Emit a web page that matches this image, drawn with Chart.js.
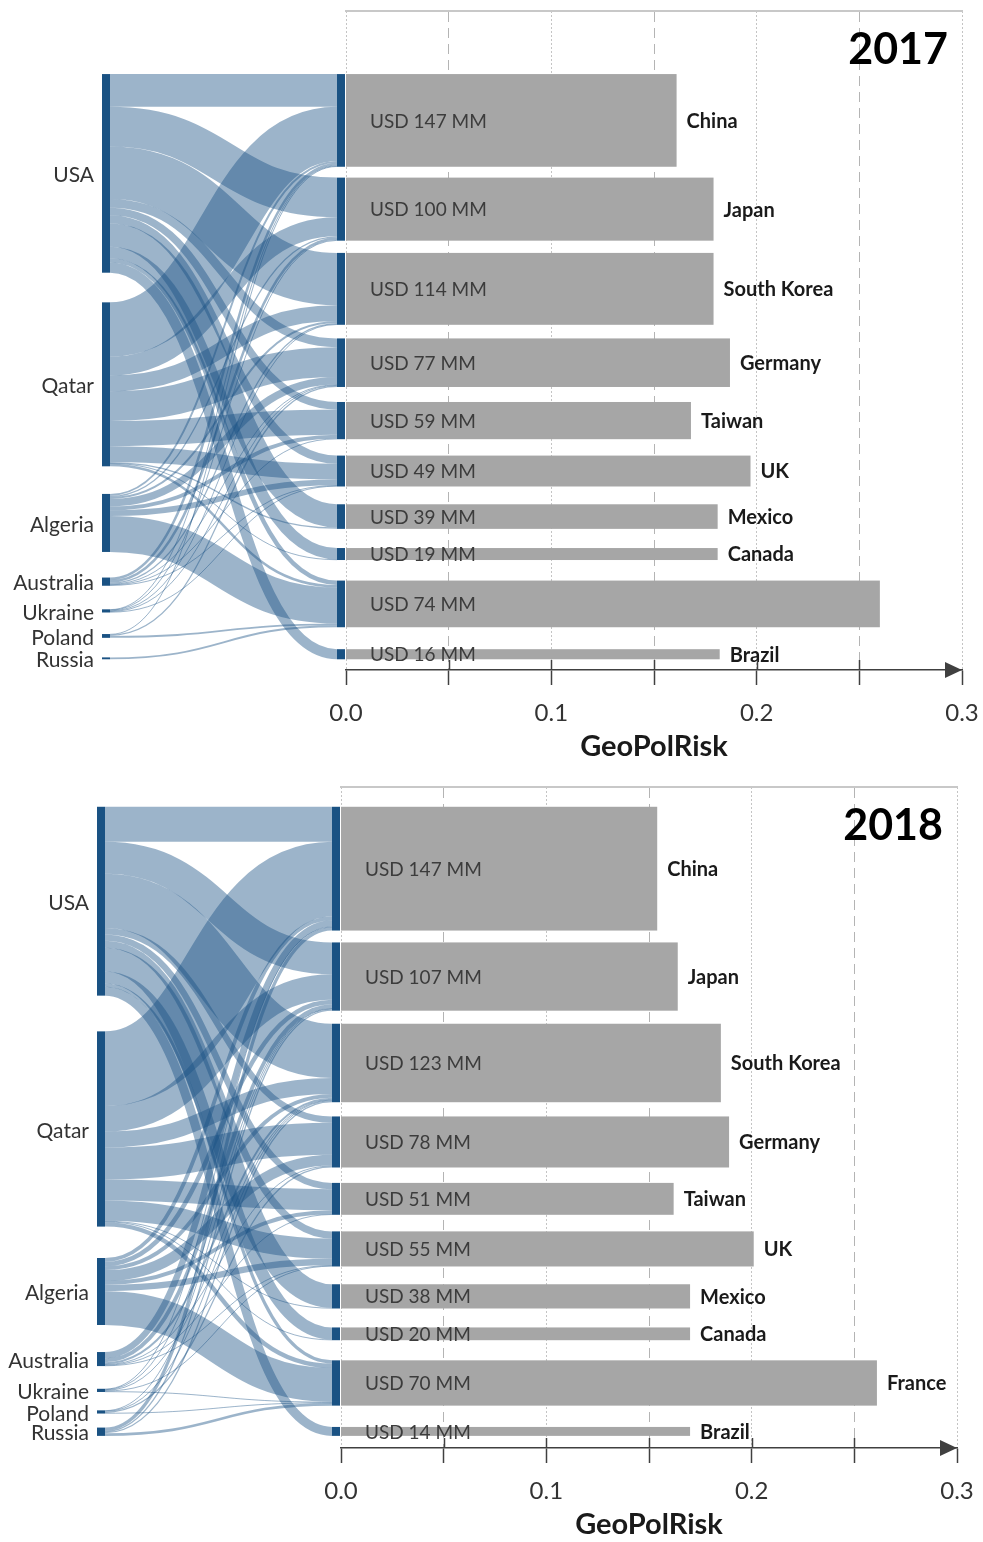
<!DOCTYPE html>
<html>
<head>
<meta charset="utf-8">
<script src="https://cdn.jsdelivr.net/npm/chart.js@4.4.1/dist/chart.umd.min.js"></script>
<style>
  body { margin: 0; background: #fff; }
  .panel { position: relative; width: 983px; height: 771px; }
  canvas { display: block; }
</style>
</head>
<body>
<div class="panel"><canvas id="c2017" width="983" height="771"></canvas></div>
<div class="panel"><canvas id="c2018" width="983" height="771"></canvas></div>
<script>
// exporters (left column) and importers (right column / bars)
const exporters = ['USA', 'Qatar', 'Algeria', 'Australia', 'Ukraine', 'Poland', 'Russia'];
const importers = ['China', 'Japan', 'South Korea', 'Germany', 'Taiwan', 'UK', 'Mexico', 'Canada', 'France', 'Brazil'];
const importerLabels2017 = ['China', 'Japan', 'South Korea', 'Germany', 'Taiwan', 'UK', 'Mexico', 'Canada', '', 'Brazil'];
const importerLabels2018 = importers;

// trade value shown on the bars (USD MM)
const usd2017 = [147, 100, 114, 77, 59, 49, 39, 19, 74, 16];
const usd2018 = [147, 107, 123, 78, 51, 55, 38, 20, 70, 14];

// GeoPolRisk per importer
const risk2017 = [0.161, 0.179, 0.179, 0.187, 0.168, 0.197, 0.181, 0.181, 0.260, 0.182];
const risk2018 = [0.154, 0.164, 0.185, 0.189, 0.162, 0.201, 0.170, 0.170, 0.261, 0.170];

// flows exporter -> importer, rows = exporters, cols = importers
const flows2017 = [
  [52, 63, 83, 14, 12, 13, 37, 18, 7, 16],  // USA
  [86, 30, 25, 47, 40, 25, 2, 1, 4, 0],     // Qatar
  [3, 2, 3, 12, 6, 9, 0, 0, 57, 0],         // Algeria
  [4, 4, 2, 1, 1, 1, 0, 0, 0, 0],           // Australia
  [1, 1, 1, 1, 0, 1, 0, 0, 0, 0],           // Ukraine
  [1, 0, 0, 2, 0, 0, 0, 0, 3, 0],           // Poland
  [0, 0, 0, 0, 0, 0, 0, 0, 3, 0]            // Russia
];
const flows2018 = [
  [55, 50, 85, 10, 10, 11, 37, 19, 5, 14],  // USA
  [117, 40, 25, 50, 33, 32, 1, 1, 7, 0],    // Qatar
  [6, 7, 6, 17, 6, 10, 0, 0, 53, 0],        // Algeria
  [10, 6, 3, 1, 1, 1, 0, 0, 0, 0],          // Australia
  [1, 1, 1, 0, 0, 1, 0, 0, 1, 0],           // Ukraine
  [0, 1, 1, 2, 0, 0, 0, 0, 1, 0],           // Poland
  [5, 2, 2, 0, 0, 0, 0, 0, 4, 0]            // Russia
];

const riskTicks = [0, 0.1, 0.2, 0.3];
const riskMinorTicks = [0.05, 0.15, 0.25];

const FONT = 'Lato, "DejaVu Sans", sans-serif';
const NODE_BLUE = '#1a5283';
const FLOW_BLUE = 'rgba(26,82,131,0.43)';
const BAR_GREY = '#a6a6a6';
const nodeGap = 26; // mean gap between importer nodes, in value units

const sum = a => a.reduce((p, c) => p + c, 0);

// gaps widen (or shrink) a little down each column, as in the original layout
function gaps(n, mean, slope) {
  const mid = (n - 2) / 2;
  return Array.from({ length: n - 1 }, (_, k) => mean + slope * (k - mid));
}

function layoutSankey(flows, slopeL, slopeR) {
  const srcTot = flows.map(r => sum(r));
  const tgtTot = importers.map((_, j) => sum(flows.map(r => r[j])));
  const total = sum(tgtTot);
  const gapTotal = nodeGap * (importers.length - 1);
  const span = total + gapTotal;
  const gL = gaps(exporters.length, gapTotal / (exporters.length - 1), slopeL);
  const gR = gaps(importers.length, nodeGap, slopeR);
  let y = 0;
  const srcPos = srcTot.map((v, i) => { const p = [y, y + v]; y += v + (gL[i] || 0); return p; });
  y = 0;
  const tgtPos = tgtTot.map((v, j) => { const p = [y, y + v]; y += v + (gR[j] || 0); return p; });
  const links = [];
  flows.forEach((row, i) => {
    let acc = srcPos[i][0];
    row.forEach((v, j) => {
      if (v > 0) { links.push({ i, j, v, s0: acc, s1: acc + v }); }
      acc += v;
    });
  });
  importers.forEach((_, j) => {
    let acc = tgtPos[j][0];
    exporters.forEach((_, i) => {
      const l = links.find(k => k.i === i && k.j === j);
      if (l) { l.t0 = acc; l.t1 = acc + l.v; acc += l.v; }
    });
  });
  return { srcPos, tgtPos, links, span };
}

const sankeyBars = {
  id: 'sankeyBars',
  afterDatasetsDraw(chart, args, opts) {
    const { ctx, chartArea } = chart;
    const xs = chart.scales.x, ys = chart.scales.y;
    const p = opts.panel;
    const L = p.layout;
    const x0 = xs.getPixelForValue(0);
    const srcL = x0 - 244, srcR = x0 - 236;
    const tgtL = x0 - 9, tgtR = x0 - 1;
    const xm = (srcR + tgtL) / 2;

    ctx.save();
    // flows, drawn as thick curves like a d3 sankey link
    ctx.strokeStyle = FLOW_BLUE;
    ctx.lineCap = 'butt';
    L.links.forEach(l => {
      const a = (ys.getPixelForValue(l.s0) + ys.getPixelForValue(l.s1)) / 2;
      const b = (ys.getPixelForValue(l.t0) + ys.getPixelForValue(l.t1)) / 2;
      ctx.lineWidth = Math.max(ys.getPixelForValue(l.t1) - ys.getPixelForValue(l.t0), 1);
      ctx.beginPath();
      ctx.moveTo(srcR, a);
      ctx.bezierCurveTo(xm, a, xm, b, tgtL, b);
      ctx.stroke();
    });

    // exporter nodes + labels
    ctx.font = '21px ' + FONT;
    ctx.textAlign = 'right';
    ctx.textBaseline = 'middle';
    L.srcPos.forEach((pos, i) => {
      const y0 = ys.getPixelForValue(pos[0]), y1 = ys.getPixelForValue(pos[1]);
      ctx.fillStyle = NODE_BLUE;
      ctx.fillRect(srcL, y0, srcR - srcL, Math.max(y1 - y0, 1.5));
      ctx.fillStyle = '#333';
      ctx.fillText(exporters[i], srcL - 8, (y0 + y1) / 2 + 2);
    });

    // importer nodes, bars and labels
    L.tgtPos.forEach((pos, j) => {
      const y0 = ys.getPixelForValue(pos[0]), y1 = ys.getPixelForValue(pos[1]);
      const xe = xs.getPixelForValue(p.risk[j]);
      ctx.fillStyle = NODE_BLUE;
      ctx.fillRect(tgtL, y0, tgtR - tgtL, y1 - y0);
      ctx.fillStyle = BAR_GREY;
      ctx.fillRect(x0, y0, xe - x0, y1 - y0);
      const yc = (y0 + y1) / 2 + 1;
      ctx.textAlign = 'left';
      ctx.font = '19px ' + FONT;
      ctx.fillStyle = '#3c3c3c';
      ctx.fillText('USD ' + p.usd[j] + ' MM', x0 + 24, yc);
      ctx.font = 'bold 20px ' + FONT;
      ctx.fillStyle = '#1a1a1a';
      ctx.fillText(p.labels[j], xe + 10, yc);
    });

    // year
    ctx.font = 'bold 43px ' + FONT;
    ctx.fillStyle = '#000';
    ctx.textAlign = 'right';
    ctx.fillText(p.year, chartArea.right - 14, chartArea.top + 39);

    // short tick stubs above the axis for the inner ticks
    const ay = chartArea.bottom;
    ctx.strokeStyle = '#404040';
    ctx.lineWidth = 1.5;
    riskTicks.slice(1, -1).concat(riskMinorTicks).forEach(v => {
      const x = Math.round(xs.getPixelForValue(v)) + 0.5;
      ctx.beginPath();
      ctx.moveTo(x, ay - 10);
      ctx.lineTo(x, ay);
      ctx.stroke();
    });

    // arrow head at the end of the axis
    ctx.fillStyle = '#404040';
    ctx.beginPath();
    ctx.moveTo(chartArea.right, ay);
    ctx.lineTo(chartArea.right - 17, ay - 8);
    ctx.lineTo(chartArea.right - 17, ay + 8);
    ctx.closePath();
    ctx.fill();
    ctx.restore();
  }
};

const panels = [
  { canvas: 'c2017', year: '2017', flows: flows2017, usd: usd2017, risk: risk2017, labels: importerLabels2017,
    padTop: 100, padBottom: 17, slopeL: -3.2, slopeR: 2.2,
    padding: { left: 346, right: 21, top: 11, bottom: 7 } },
  { canvas: 'c2018', year: '2018', flows: flows2018, usd: usd2018, risk: risk2018, labels: importerLabels2018,
    padTop: 31, padBottom: 19, slopeL: -6.8, slopeR: 1.85,
    padding: { left: 341, right: 26, top: 16, bottom: 0 } }
];

const isMajor = v => riskTicks.some(t => Math.abs(t - v) < 1e-9);

panels.forEach(p => {
  p.layout = layoutSankey(p.flows, p.slopeL, p.slopeR);
  new Chart(document.getElementById(p.canvas), {
    type: 'scatter',
    data: { datasets: [] },
    plugins: [sankeyBars],
    options: {
      responsive: false,
      devicePixelRatio: 1,
      animation: false,
      layout: { padding: p.padding },
      plugins: {
        legend: { display: false },
        tooltip: { enabled: false },
        sankeyBars: { panel: p }
      },
      scales: {
        x: {
          type: 'linear', position: 'bottom', min: 0, max: 0.3,
          afterBuildTicks: s => { s.ticks = riskTicks.concat(riskMinorTicks).sort((a, b) => a - b).map(v => ({ value: v })); },
          afterFit: s => { s.height = 94; s.paddingLeft = 0; s.paddingRight = 0; },
          ticks: {
            autoSkip: false, maxRotation: 0, padding: 14,
            color: '#333', font: { family: FONT, size: 24 },
            callback: v => isMajor(v) ? v.toFixed(1) : ''
          },
          grid: {
            color: c => (c.tick && isMajor(c.tick.value)) ? '#c4c4c4' : 'rgba(0,0,0,0)',
            lineWidth: 1, tickLength: 15, tickColor: '#404040', tickWidth: 1.5
          },
          border: { display: true, color: '#404040', width: 1.5, dash: [2, 2] },
          title: {
            display: true, text: 'GeoPolRisk', color: '#1a1a1a', padding: 0,
            font: { family: FONT, size: 29, weight: 'bold' }
          }
        },
        x2: {
          type: 'linear', position: 'top', min: 0, max: 0.3,
          afterBuildTicks: s => { s.ticks = riskMinorTicks.map(v => ({ value: v })); },
          afterFit: s => { s.height = 0; s.paddingLeft = 0; s.paddingRight = 0; },
          ticks: { display: false },
          grid: { color: '#b4b4b4', lineWidth: 1, drawTicks: false },
          border: { display: true, color: '#c8c8c8', width: 2, dash: [10, 6] }
        },
        y: {
          type: 'linear', display: false, reverse: true,
          min: -p.padTop, max: p.layout.span + p.padBottom
        }
      }
    }
  });
});
</script>
</body>
</html>
